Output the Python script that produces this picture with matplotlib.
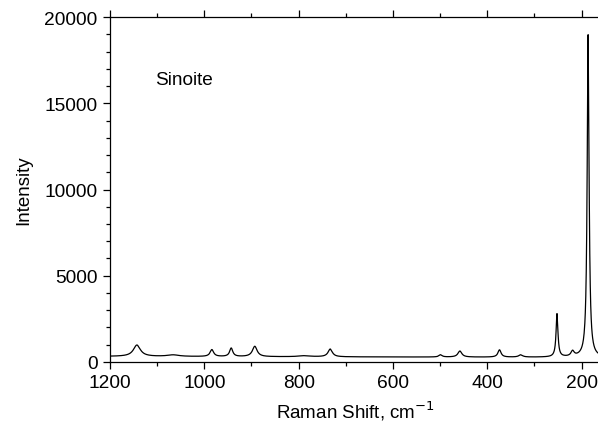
import numpy as np
import matplotlib.pyplot as plt
from matplotlib.ticker import MultipleLocator

plt.rcParams['font.family'] = ['Liberation Sans', 'DejaVu Sans']

# peaks: position (cm-1), height above baseline, half width
peak_pos = [1143, 1066, 984, 943, 893, 788, 733, 499, 458, 374, 329, 252, 219, 186]
peak_amp = [660, 90, 400, 490, 600, 60, 450, 130, 350, 420, 130, 2500, 300, 18700]
peak_hw = [9, 15, 4.5, 4, 6, 15, 5.5, 4, 5, 4, 5, 2.4, 4, 2.4]

# baseline level at a few shifts
base_x = [160, 300, 600, 900, 1200]
base_y = [270, 270, 285, 300, 320]

shift = np.arange(160, 1200.5, 0.5)
intensity = np.interp(shift, base_x, base_y)
for p, a, w in zip(peak_pos, peak_amp, peak_hw):
    intensity = intensity + a * w**2 / ((shift - p)**2 + w**2)

fig = plt.figure(figsize=(5.98, 4.31), dpi=100)
ax = fig.add_axes([0.184, 0.158, 0.820, 0.800])
ax.plot(shift, intensity, color='black', lw=0.9)

ax.set_xlim(1200, 160)
ax.set_ylim(0, 20000)
ax.xaxis.set_major_locator(MultipleLocator(200))
ax.xaxis.set_minor_locator(MultipleLocator(100))
ax.yaxis.set_major_locator(MultipleLocator(5000))
ax.yaxis.set_minor_locator(MultipleLocator(1000))
ax.tick_params(which='both', direction='out', top=True, labelsize=13.8, width=0.9)
ax.tick_params(which='major', length=5, pad=4)
ax.tick_params(which='minor', length=3)
for s in ax.spines.values():
    s.set_linewidth(0.9)

ax.set_xlabel('Raman Shift, cm$^{-1}$', fontsize=13.5, labelpad=5)
ax.set_ylabel('Intensity', fontsize=13.5, labelpad=9)
ax.text(1105, 16100, 'Sinoite', fontsize=13.7)

fig.savefig('out.png', dpi=100)
